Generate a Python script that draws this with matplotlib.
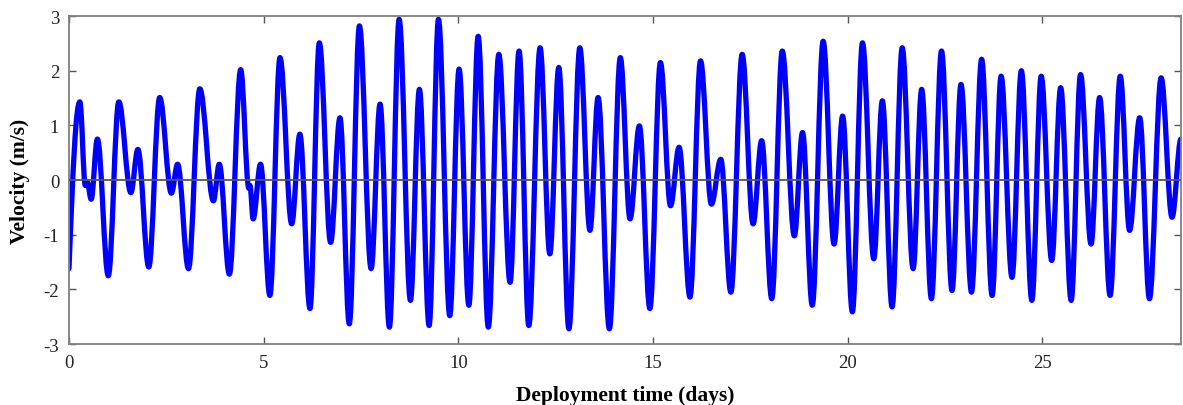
import matplotlib
matplotlib.use("Agg")
import matplotlib.pyplot as plt
from matplotlib.path import Path
from matplotlib.patches import PathPatch

# Extremes of the velocity record (days, m/s)
time_days = [0.00, 0.28, 0.42, 0.47, 0.57, 0.73, 1.01, 1.28, 1.59, 1.77,
             2.05, 2.33, 2.63, 2.79, 3.07, 3.36, 3.71, 3.86, 4.12, 4.41,
             4.62, 4.65, 4.73, 4.92, 5.16, 5.42, 5.72, 5.93, 6.19, 6.43,
             6.72, 6.96, 7.20, 7.46, 7.76, 7.99, 8.23, 8.48, 8.77, 9.00,
             9.25, 9.49, 9.78, 10.02, 10.27, 10.51, 10.77, 11.04, 11.33, 11.56,
             11.81, 12.10, 12.35, 12.58, 12.84, 13.12, 13.38, 13.59, 13.88, 14.16,
             14.41, 14.65, 14.92, 15.19, 15.45, 15.67, 15.95, 16.22, 16.50, 16.74,
             17.00, 17.29, 17.57, 17.79, 18.05, 18.32, 18.63, 18.84, 19.09, 19.37,
             19.65, 19.87, 20.12, 20.38, 20.67, 20.89, 21.14, 21.40, 21.68, 21.90,
             22.15, 22.41, 22.68, 22.91, 23.18, 23.44, 23.71, 23.94, 24.22, 24.46,
             24.73, 24.97, 25.24, 25.47, 25.74, 25.98, 26.25, 26.47, 26.74, 27.00,
             27.24, 27.50, 27.75, 28.05, 28.33, 28.56]
velocity = [-1.62, 1.43, -0.10, -0.04, -0.35, 0.75, -1.75, 1.43, -0.23, 0.56,
            -1.59, 1.51, -0.24, 0.29, -1.62, 1.67, -0.38, 0.29, -1.72, 2.02,
            -0.15, -0.10, -0.71, 0.29, -2.11, 2.24, -0.80, 0.84, -2.35, 2.51,
            -1.14, 1.14, -2.63, 2.82, -1.62, 1.39, -2.69, 2.94, -2.20, 1.66,
            -2.66, 2.94, -2.48, 2.03, -2.29, 2.63, -2.69, 2.30, -1.87, 2.36,
            -2.66, 2.42, -1.35, 2.06, -2.72, 2.42, -0.92, 1.51, -2.72, 2.24,
            -0.71, 0.99, -2.35, 2.15, -0.47, 0.60, -2.14, 2.18, -0.44, 0.38,
            -2.05, 2.30, -0.80, 0.72, -2.17, 2.36, -1.02, 0.87, -2.29, 2.54,
            -1.17, 1.17, -2.41, 2.51, -1.44, 1.45, -2.32, 2.42, -1.62, 1.66,
            -2.17, 2.36, -2.02, 1.75, -2.05, 2.21, -2.11, 1.90, -1.78, 2.00,
            -2.20, 1.90, -1.47, 1.69, -2.20, 1.93, -1.17, 1.51, -2.11, 1.90,
            -0.92, 1.14, -2.17, 1.87, -0.68, 0.75]

x_ticks = [0, 5, 10, 15, 20, 25]
y_ticks = [-3, -2, -1, 0, 1, 2, 3]
x_label = "Deployment time (days)"
y_label = "Velocity (m/s)"

plt.rcParams['font.family'] = ['Liberation Serif', 'DejaVu Serif']
plt.rcParams['axes.unicode_minus'] = False

fig = plt.figure(figsize=(11.83, 4.06), dpi=100)
ax = fig.add_axes([0.0583, 0.150, 0.9400, 0.808])

# Smooth curve through the extremes (horizontal tangent at each extreme)
k = 0.36
verts = [(time_days[0], velocity[0])]
codes = [Path.MOVETO]
for i in range(len(time_days) - 1):
    t0, v0 = time_days[i], velocity[i]
    t1, v1 = time_days[i + 1], velocity[i + 1]
    dt = t1 - t0
    if i == 0:
        c1 = (t0 + k * dt, v0 + 0.6 * (v1 - v0))
    else:
        c1 = (t0 + k * dt, v0)
    c2 = (t1 - k * dt, v1)
    verts += [c1, c2, (t1, v1)]
    codes += [Path.CURVE4, Path.CURVE4, Path.CURVE4]
patch = PathPatch(Path(verts, codes), fill=False, edgecolor='#0000ff',
                  linewidth=3.8, joinstyle='round', capstyle='round', zorder=2)
ax.add_patch(patch)

ax.axhline(0, color='#555555', linewidth=1.3, zorder=3)

ax.set_xlim(0, 28.56)
ax.set_ylim(-3, 3)
ax.set_xticks(x_ticks)
ax.set_yticks(y_ticks)
ax.tick_params(direction='in', top=True, right=True, length=5, width=1,
               color='#555555', labelsize=13.5, pad=7, labelcolor='#222222')
for s in ax.spines.values():
    s.set_color('#808080')
    s.set_linewidth(1.3)
ax.set_xlabel(x_label, fontsize=15.5, fontweight='bold', labelpad=10)
ax.set_ylabel(y_label, fontsize=15.5, fontweight='bold', labelpad=10)

fig.savefig("out.png", dpi=100)
